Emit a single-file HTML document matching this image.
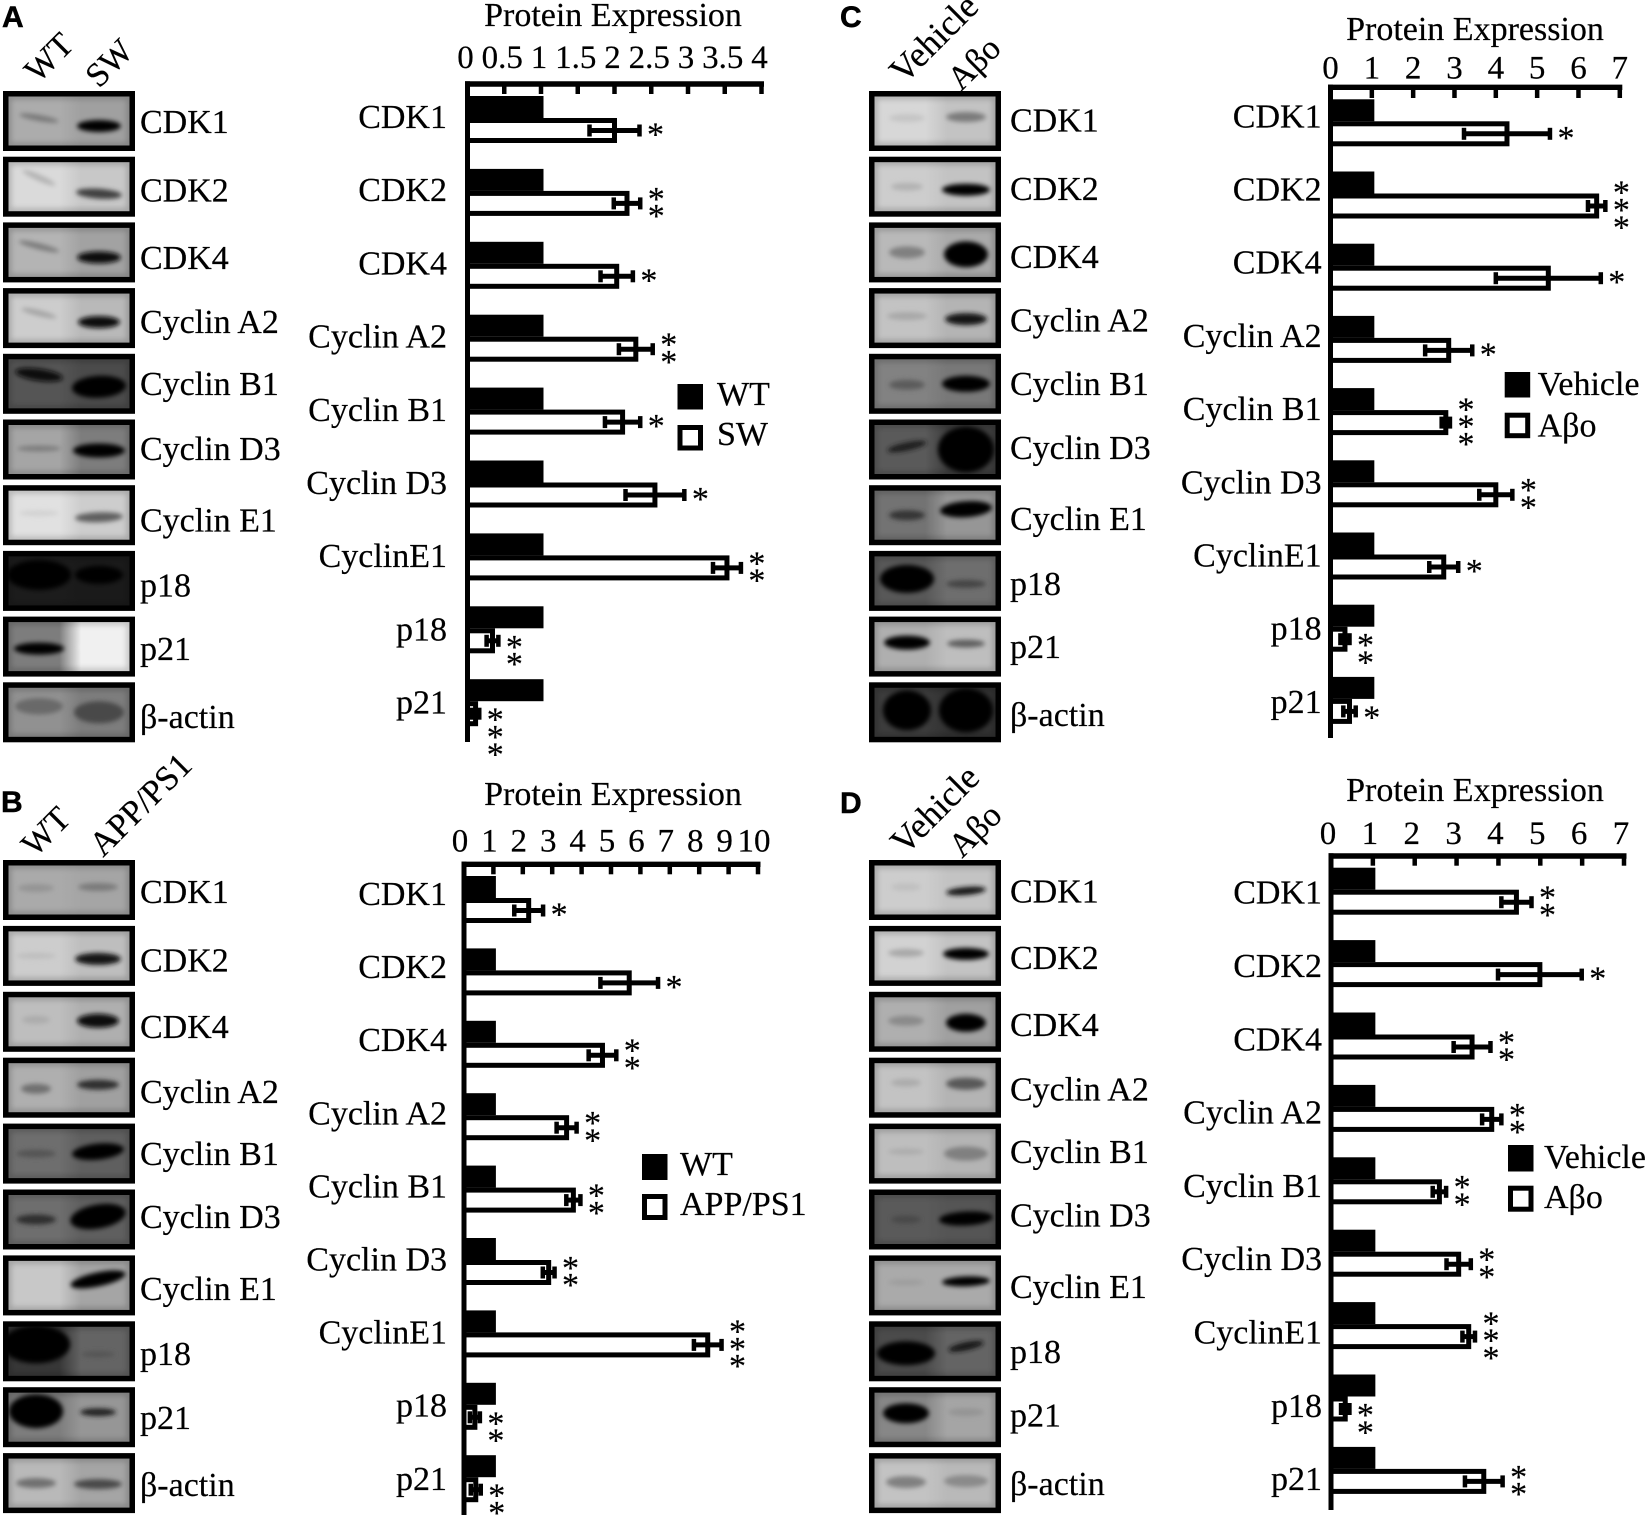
<!DOCTYPE html>
<html lang="en">
<head>
<meta charset="utf-8">
<title>Protein expression blots and bar charts</title>
<style>
html,body{margin:0;padding:0;background:#fff;width:1650px;height:1518px;overflow:hidden}
svg{display:block}
text{font-family:"Liberation Serif",serif;fill:#000;stroke:#000;stroke-width:.2px}
.t33{font-size:34px}
.letter{font-family:"Liberation Sans",sans-serif;font-weight:bold;font-size:30px;stroke-width:.5px}
</style>
</head>
<body>
<svg id="figure" xmlns="http://www.w3.org/2000/svg" width="1650" height="1518" viewBox="0 0 1650 1518">
<defs>
<filter id="blur" x="-60%" y="-150%" width="220%" height="400%"><feGaussianBlur stdDeviation="2.5"/></filter>
<filter id="edge" x="-10%" y="-20%" width="120%" height="140%"><feGaussianBlur stdDeviation="3"/></filter>
</defs>
<rect width="1650" height="1518" fill="#fff"/>

<g id="blots"></g>
<g id="charts"></g>

<text class="letter" x="2" y="27">A</text>
<text class="letter" x="1" y="812">B</text>
<text class="letter" x="840" y="27">C</text>
<text class="letter" x="840" y="813">D</text>

<text class="t33" transform="translate(38 84) rotate(-45)">WT</text>
<text class="t33" transform="translate(99 89) rotate(-45)">SW</text>
<text class="t33" transform="translate(35 858) rotate(-45)">WT</text>
<text class="t33" transform="translate(103 858) rotate(-45)" style="font-size:34.5px">APP/PS1</text>
<text class="t33" transform="translate(904 85) rotate(-45)" style="font-size:36px">Vehicle</text>
<text class="t33" transform="translate(961 92) rotate(-45)">Aβo</text>
<text class="t33" transform="translate(905 856) rotate(-45)" style="font-size:36px">Vehicle</text>
<text class="t33" transform="translate(962 859) rotate(-45)">Aβo</text>

<g class="t33">
<text x="140" y="133">CDK1</text><text x="140" y="201.7">CDK2</text><text x="140" y="269">CDK4</text><text x="140" y="333">Cyclin A2</text><text x="140" y="395">Cyclin B1</text><text x="140" y="460">Cyclin D3</text><text x="140" y="531.7">Cyclin E1</text><text x="140" y="596.7">p18</text><text x="140" y="660">p21</text><text x="140" y="728">β-actin</text>
</g>
<g class="t33">
<text x="140" y="903">CDK1</text><text x="140" y="971.7">CDK2</text><text x="140" y="1038">CDK4</text><text x="140" y="1103">Cyclin A2</text><text x="140" y="1165">Cyclin B1</text><text x="140" y="1228">Cyclin D3</text><text x="140" y="1300">Cyclin E1</text><text x="140" y="1365">p18</text><text x="140" y="1429">p21</text><text x="140" y="1496">β-actin</text>
</g>
<g class="t33">
<text x="1010" y="131.7">CDK1</text><text x="1010" y="200">CDK2</text><text x="1010" y="268">CDK4</text><text x="1010" y="331.7">Cyclin A2</text><text x="1010" y="395">Cyclin B1</text><text x="1010" y="459">Cyclin D3</text><text x="1010" y="530">Cyclin E1</text><text x="1010" y="595">p18</text><text x="1010" y="658">p21</text><text x="1010" y="726">β-actin</text>
</g>
<g class="t33">
<text x="1010" y="902.7">CDK1</text><text x="1010" y="969">CDK2</text><text x="1010" y="1036">CDK4</text><text x="1010" y="1100.7">Cyclin A2</text><text x="1010" y="1163">Cyclin B1</text><text x="1010" y="1226.7">Cyclin D3</text><text x="1010" y="1298">Cyclin E1</text><text x="1010" y="1363">p18</text><text x="1010" y="1426.7">p21</text><text x="1010" y="1495">β-actin</text>
</g>

<text class="t33" x="613" y="26" text-anchor="middle">Protein Expression</text>
<text class="t33" x="613" y="805" text-anchor="middle">Protein Expression</text>
<text class="t33" x="1475" y="40" text-anchor="middle">Protein Expression</text>
<text class="t33" x="1475" y="801" text-anchor="middle">Protein Expression</text>

<g>
<rect x="677.5" y="384" width="25.5" height="25.5" fill="#000"/><text class="t33" x="717" y="405">WT</text>
<rect x="680" y="427.5" width="20.5" height="20.5" fill="#fff" stroke="#000" stroke-width="5"/><text class="t33" x="717" y="445">SW</text>
</g>
<g>
<rect x="642" y="1154" width="25.5" height="26" fill="#000"/><text class="t33" x="680" y="1175">WT</text>
<rect x="644.5" y="1196.5" width="20.5" height="21" fill="#fff" stroke="#000" stroke-width="5"/><text class="t33" x="680" y="1215">APP/PS1</text>
</g>
<g>
<rect x="1504.7" y="372" width="25.5" height="25.5" fill="#000"/><text class="t33" x="1537.6" y="395">Vehicle</text>
<rect x="1507.2" y="415.2" width="20.5" height="20.5" fill="#fff" stroke="#000" stroke-width="5"/><text class="t33" x="1537.6" y="436.7">Aβo</text>
</g>
<g>
<rect x="1508" y="1145" width="25.5" height="26.5" fill="#000"/><text class="t33" x="1544" y="1168">Vehicle</text>
<rect x="1510.5" y="1188.2" width="20.5" height="21" fill="#fff" stroke="#000" stroke-width="5"/><text class="t33" x="1544" y="1208">Aβo</text>
</g>
</svg>

<script>
// ---- chart data ----
const categories = ['CDK1','CDK2','CDK4','Cyclin A2','Cyclin B1','Cyclin D3','CyclinE1','p18','p21'];

const ticksA = [0,0.5,1,1.5,2,2.5,3,3.5,4];
const controlA = [1,1,1,1,1,1,1,1,1];
const treatedA = [2.0,2.17,2.03,2.29,2.11,2.55,3.53,0.34,0.11];
const errorA = [0.34,0.18,0.22,0.23,0.24,0.40,0.19,0.08,0.05];
const starsA = [1,2,1,2,1,1,2,2,3];

const ticksB = [0,1,2,3,4,5,6,7,8,9,10];
const controlB = [1,1,1,1,1,1,1,1,1];
const treatedB = [2.2,5.62,4.71,3.49,3.72,2.88,8.29,0.37,0.4];
const errorB = [0.49,0.98,0.47,0.34,0.24,0.2,0.47,0.17,0.17];
const starsB = [1,1,2,2,2,2,3,2,2];

const ticksC = [0,1,2,3,4,5,6,7];
const controlC = [1,1,1,1,1,1,1,1,1];
const treatedC = [4.27,6.44,5.27,2.86,2.79,4.0,2.74,0.35,0.46];
const errorC = [1.04,0.21,1.27,0.57,0.1,0.4,0.35,0.11,0.15];
const starsC = [1,3,1,1,3,2,1,2,1];

const ticksD = [0,1,2,3,4,5,6,7];
const controlD = [1,1,1,1,1,1,1,1,1];
const treatedD = [4.43,4.99,3.37,3.84,2.59,3.05,3.29,0.34,3.65];
const errorD = [0.36,1.0,0.44,0.23,0.16,0.29,0.15,0.1,0.45];
const starsD = [2,1,2,2,2,2,3,2,2];

// ---- blot appearance: left/right background grey, lane 1 and lane 2 band (grey, half-width, half-height, vertical centre), optional tilt of each band ----
const blotLookA = [
 [172,160, 120,20,3,27,    0,22,6,35,  10,0],
 [218,200, 178,18,3,21,   65,23,5,37,  24,4],
 [180,162, 122,21,3,24,   15,22,6,35,  14,0],
 [205,185, 165,18,3,25,    8,21,6,34,  14,0],
 [85,75,    10,24,6,21,    0,27,11,33,  8,-3],
 [165,125, 125,22,3,29,    0,26,7,31,   0,0],
 [225,205, 210,20,3,28,   95,24,5,32,   0,-2],
 [28,26,     0,32,15,24,   0,24,9,24,   0,0],
 [125,240,   0,25,6,32,  240,20,3,30,   0,0],
 [145,125, 105,24,8,24,   72,25,11,30,  0,0]
];
const blotLookB = [
 [170,165, 148,18,4,28,  122,20,4,27,   0,0],
 [205,190, 190,20,3,30,   25,23,6,33,   0,0],
 [190,175, 172,14,4,28,    8,21,7,29,   0,0],
 [175,160, 112,15,5,31,   45,21,5,27,   0,0],
 [110,95,   85,20,4,30,    5,26,8,28,   0,-6],
 [110,95,   45,20,5,30,    0,28,12,27,  0,-10],
 [200,165, 200,20,3,30,    0,28,7,24,   0,-12],
 [55,100,    0,34,19,23,  85,17,3,33,   0,0],
 [125,150,   0,27,17,24,  35,18,4,25,   0,0],
 [185,165, 112,20,5,30,   72,24,5,31,   0,0]
];
const blotLookC = [
 [215,195, 197,18,4,27,  122,20,5,26,   0,0],
 [205,195, 178,16,4,30,    0,24,6,33,   0,0],
 [185,170, 128,18,6,30,    0,22,13,32,  0,0],
 [195,180, 168,20,4,28,   25,21,6,31,   0,0],
 [130,120,  92,18,5,31,    0,24,8,30,   0,0],
 [90,62,    30,20,4,27,    0,28,23,30, -12,0],
 [115,150,  52,18,5,30,    0,26,8,24,   0,-4],
 [88,110,    0,27,14,28,  68,20,4,33,   0,0],
 [175,190,   0,23,7,26,   95,19,4,27,   0,0],
 [60,50,     0,24,20,28,   0,27,22,28,  0,0]
];
const blotLookD = [
 [205,195, 192,15,4,27,   20,20,4,31,   0,-5],
 [210,195, 168,18,4,27,    5,23,6,28,   0,0],
 [175,160, 138,18,5,29,    0,20,9,31,   0,0],
 [195,180, 172,15,4,25,   88,20,6,26,   0,0],
 [190,180, 172,18,3,28,  128,22,7,30,   0,0],
 [90,85,    72,15,4,30,    0,27,7,29,   0,-3],
 [170,170, 157,18,3,27,    0,24,5,26,   0,-2],
 [75,100,    0,29,12,32,  20,18,4,25,   0,-12],
 [135,165,   0,23,10,26, 148,18,4,25,   0,0],
 [195,185, 128,20,6,29,  138,22,6,28,   0,0]
];

// ---- drawing ----
const NS = 'http://www.w3.org/2000/svg';
function make(tag, attrs, parent) {
  const node = document.createElementNS(NS, tag);
  for (const key in attrs) node.setAttribute(key, attrs[key]);
  parent.appendChild(node);
  return node;
}
function grey(g) { return 'rgb(' + g + ',' + g + ',' + g + ')'; }

const defsNode = document.querySelector('#figure defs');
const blotRoot = document.getElementById('blots');
const chartRoot = document.getElementById('charts');
const blotNames = ['cdk1','cdk2','cdk4','cyclin-a2','cyclin-b1','cyclin-d3','cyclin-e1','p18','p21','beta-actin'];

function drawBlots(id, looks, box) {
  looks.forEach(function (look, i) {
    const top = box.top + i * box.pitch;
    const g = make('g', {}, blotRoot);
    
    
    const gid = 'g' + id + i;
    const grad = make('linearGradient', {id: gid, x1: 0, x2: 1, y1: 0, y2: 0}, defsNode);
    make('stop', {offset: '0.42', 'stop-color': grey(look[0])}, grad);
    make('stop', {offset: '0.6', 'stop-color': grey(look[1])}, grad);
    const clip = make('clipPath', {id: 'c' + gid}, defsNode);
    make('rect', {x: box.x + 5.5, y: top + 5.5, width: box.w - 11, height: box.h - 11}, clip);
    make('rect', {x: box.x, y: top, width: box.w, height: box.h, fill: '#000'}, g);
    make('rect', {x: box.x + 5.5, y: top + 5.5, width: box.w - 11, height: box.h - 11, fill: 'url(#' + gid + ')'}, g);
    const inner = make('g', {'clip-path': 'url(#c' + gid + ')'}, g);
    make('rect', {x: box.x + 5.5, y: top + 5.5, width: box.w - 11, height: box.h - 11, fill: 'none', stroke: '#000', 'stroke-opacity': 0.22, 'stroke-width': 5, filter: 'url(#edge)'}, inner);
    const cx1 = box.x + box.lane1;
    const cx2 = box.x + box.lane2;
    const cy1 = top + look[5];
    const cy2 = top + look[9];
    make('ellipse', {cx: cx1, cy: cy1, rx: look[3], ry: look[4], fill: grey(look[2]), filter: 'url(#blur)', transform: 'rotate(' + (look[10] || 0) + ' ' + cx1 + ' ' + cy1 + ')'}, inner);
    make('ellipse', {cx: cx2, cy: cy2, rx: look[7], ry: look[8], fill: grey(look[6]), filter: 'url(#blur)', transform: 'rotate(' + (look[11] || 0) + ' ' + cx2 + ' ' + cy2 + ')'}, inner);
  });
}

function drawChart(id, ticks, control, treated, error, stars, box) {
  const g = make('g', {}, chartRoot);
  
  
  const maxTick = ticks[ticks.length - 1];
  const xScale = function (v) { return box.x0 + (v / maxTick) * box.span; };
  const rowTop = function (i) { return box.top + i * box.pitch; };
  const stroke = 5;

  categories.forEach(function (name, i) {
    const top = rowTop(i);
    const label = make('text', {x: box.labelRight, y: box.top + box.labelDy + i * box.labelPitch, 'text-anchor': 'end', class: 't33'}, g);
    label.textContent = name;
    
    

    const barA = make('rect', {x: box.x0, y: top + stroke / 2, width: xScale(control[i]) - box.x0, height: 22 - stroke, fill: '#000', stroke: '#000', 'stroke-width': stroke}, g);
    
    

    const barB = make('rect', {x: box.x0, y: top + 22 + stroke / 2, width: xScale(treated[i]) - box.x0, height: 25 - stroke, fill: '#fff', stroke: '#000', 'stroke-width': stroke}, g);
    
    

    const cy = top + 34.5;
    const lo = xScale(treated[i] - error[i]);
    const hi = xScale(treated[i] + error[i]);
    const whisker = make('line', {x1: lo, x2: hi, y1: cy, y2: cy, stroke: '#000', 'stroke-width': 5}, g);
    
    
    [lo, hi].forEach(function (xp) {
      const cap = make('line', {x1: xp, x2: xp, y1: cy - 6, y2: cy + 6, stroke: '#000', 'stroke-width': 4.5}, g);
      
      
    });

    const count = stars[i];
    const step = 17.3;
    const first = treated[i] < 0.6 ? cy + 2 : cy - (count - 1) * step / 2;
    for (let s = 0; s < count; s++) {
      const star = make('text', {x: hi + 16, y: first + s * step + 15, 'text-anchor': 'middle', 'font-size': 34}, g);
      star.textContent = '*';
      
      
    }
  });

  const yAxis = make('line', {x1: box.x0, x2: box.x0, y1: box.axisY - 2.7, y2: box.bottom, stroke: '#000', 'stroke-width': 5}, g);
  
  
  const xAxis = make('line', {x1: box.x0 - 2.5, x2: box.x0 + box.span + 2.5, y1: box.axisY, y2: box.axisY, stroke: '#000', 'stroke-width': 5.4}, g);
  
  

  ticks.forEach(function (t) {
    const xp = xScale(t);
    const tick = make('line', {x1: xp, x2: xp, y1: box.axisY, y2: box.tickBottom, stroke: '#000', 'stroke-width': 4.5}, g);
    
    
    const lab = make('text', {x: xp + box.tickDx, y: box.tickBaseline, 'text-anchor': 'middle', 'font-size': 33}, g);
    lab.textContent = String(t);
    
    
  });
}

drawBlots('a', blotLookA, {x: 3, w: 132, top: 91, pitch: 65.7, h: 60, lane1: 36, lane2: 96});
drawBlots('b', blotLookB, {x: 3, w: 132, top: 860, pitch: 65.9, h: 60, lane1: 33, lane2: 95});
drawBlots('c', blotLookC, {x: 869, w: 132, top: 91, pitch: 65.7, h: 60, lane1: 38, lane2: 97});
drawBlots('d', blotLookD, {x: 869, w: 132, top: 860, pitch: 65.9, h: 60, lane1: 37, lane2: 97});

drawChart('a', ticksA, controlA, treatedA, errorA, starsA, {x0: 467.5, span: 294, axisY: 84, tickBottom: 94, top: 96, pitch: 72.9, bottom: 742, labelRight: 447, labelDy: 32, labelPitch: 73.2, tickBaseline: 68, tickDx: -2});
drawChart('b', ticksB, controlB, treatedB, errorB, starsB, {x0: 464, span: 294, axisY: 864.3, tickBottom: 874.3, top: 876, pitch: 72.4, bottom: 1515, labelRight: 447, labelDy: 29, labelPitch: 73.1, tickBaseline: 851.7, tickDx: -4});
drawChart('c', ticksC, controlC, treatedC, errorC, starsC, {x0: 1330.5, span: 289.3, axisY: 87.3, tickBottom: 98, top: 99.3, pitch: 72.2, bottom: 738, labelRight: 1321.6, labelDy: 28, labelPitch: 73.2, tickBaseline: 78.3, tickDx: 0});
drawChart('d', ticksD, controlD, treatedD, errorD, starsD, {x0: 1331, span: 293, axisY: 856, tickBottom: 865.7, top: 867.7, pitch: 72.4, bottom: 1510, labelRight: 1322, labelDy: 36, labelPitch: 73.3, tickBaseline: 844, tickDx: -3});
</script>
</body>
</html>
